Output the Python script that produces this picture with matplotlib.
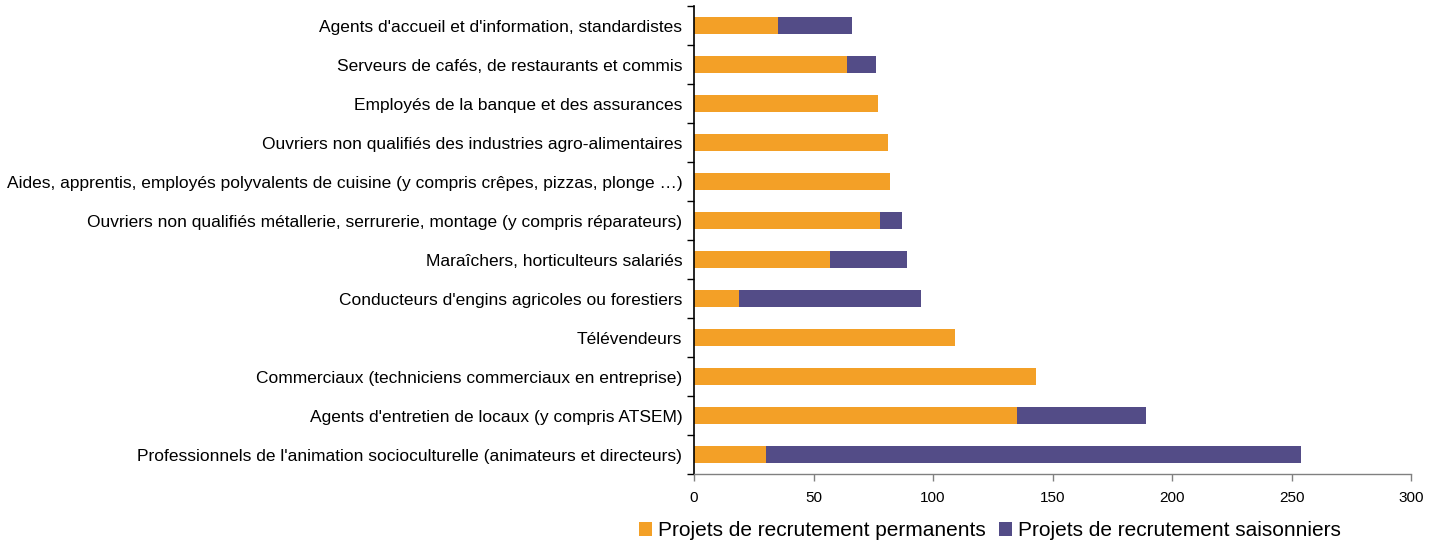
import matplotlib
matplotlib.use("Agg")
import matplotlib.pyplot as plt
import numpy as np

plt.rcParams['font.family'] = ['Liberation Sans', 'DejaVu Sans']

categories = [
    "Agents d'accueil et d'information, standardistes",
    "Serveurs de cafés, de restaurants et commis",
    "Employés de la banque et des assurances",
    "Ouvriers non qualifiés des industries agro-alimentaires",
    "Aides, apprentis, employés polyvalents de cuisine (y compris crêpes, pizzas, plonge …)",
    "Ouvriers non qualifiés métallerie, serrurerie, montage (y compris réparateurs)",
    "Maraîchers, horticulteurs salariés",
    "Conducteurs d'engins agricoles ou forestiers",
    "Télévendeurs",
    "Commerciaux (techniciens commerciaux en entreprise)",
    "Agents d'entretien de locaux (y compris ATSEM)",
    "Professionnels de l'animation socioculturelle (animateurs et directeurs)",
]
permanents = [35, 64, 77, 81, 82, 78, 57, 19, 109, 143, 135, 30]
saisonniers = [31, 12, 0, 0, 0, 9, 32, 76, 0, 0, 54, 224]
series_names = ["Projets de recrutement permanents", "Projets de recrutement saisonniers"]
xticks = [0, 50, 100, 150, 200, 250, 300]

c_perm = "#F3A027"
c_sais = "#534C87"

fig = plt.figure(figsize=(14.37, 5.45), dpi=100)
ax = fig.add_axes([694/1437, 1-474/545, (1411-694)/1437, (474-6)/545])

y = np.arange(len(categories))
h = 0.42
ax.barh(y, permanents, height=h, color=c_perm, label=series_names[0])
ax.barh(y, saisonniers, left=permanents, height=h, color=c_sais, label=series_names[1])

ax.set_ylim(len(categories) - 0.5, -0.5)
ax.set_xlim(0, 300)
ax.set_xticks(xticks)
ax.set_xticklabels([str(v) for v in xticks], fontsize=11)
ax.set_yticks(y)
ax.set_yticklabels(categories, fontsize=12.5)
ax.tick_params(axis='y', which='major', length=0, pad=8.5)
ax.set_yticks(np.arange(-0.5, len(categories)), minor=True)
ax.tick_params(axis='y', which='minor', length=5, width=1, color='black', direction='out')
ax.tick_params(axis='x', length=5, width=1, color='#808080', pad=7)

for s in ['top', 'right']:
    ax.spines[s].set_visible(False)
ax.spines['left'].set_color('black')
ax.spines['left'].set_linewidth(1.2)
ax.spines['bottom'].set_color('#808080')
ax.spines['bottom'].set_linewidth(1)

fig.legend(loc='center', bbox_to_anchor=(990/1437, 1-531/545), ncol=2, frameon=False,
           fontsize=15, handlelength=0.65, handleheight=0.65, handletextpad=0.3,
           columnspacing=0.6, borderaxespad=0)

fig.savefig("out.png", dpi=100)
